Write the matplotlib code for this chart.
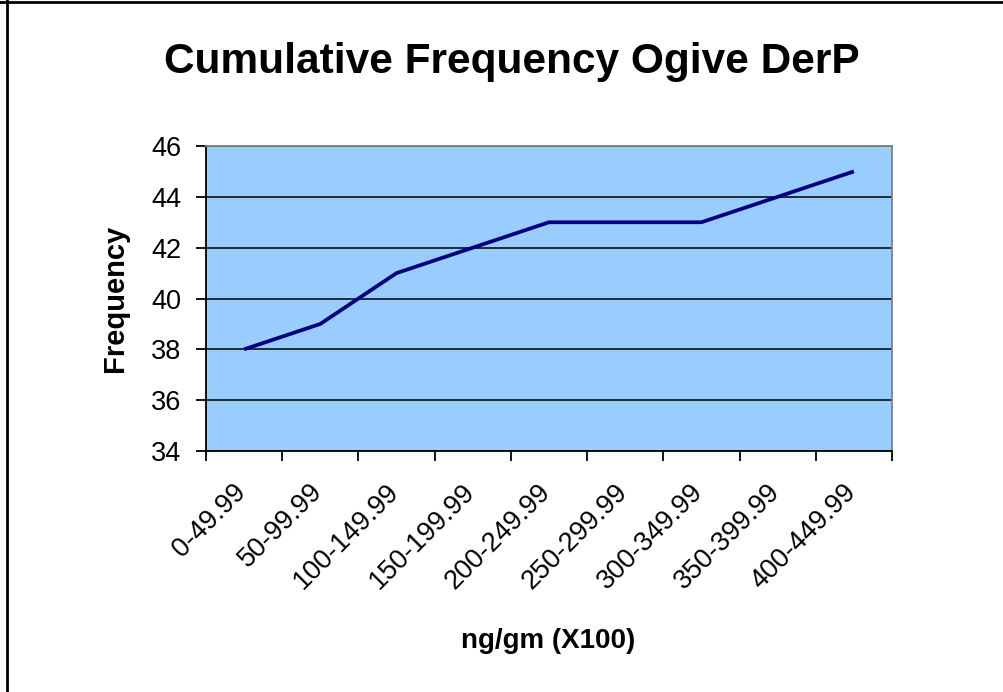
import matplotlib
matplotlib.use("Agg")
import matplotlib.pyplot as plt
import matplotlib.transforms as mtransforms
from matplotlib.lines import Line2D

plt.rcParams['font.family'] = ['Liberation Sans', 'DejaVu Sans']

# Concentration classes and cumulative counts
categories = ["0-49.99", "50-99.99", "100-149.99", "150-199.99", "200-249.99",
              "250-299.99", "300-349.99", "350-399.99", "400-449.99"]
cumulative_freq = [38, 39, 41, 42, 43, 43, 43, 44, 45]
y_ticks = [34, 36, 38, 40, 42, 44, 46]

title = "Cumulative Frequency Ogive DerP"
x_title = "ng/gm (X100)"
y_title = "Frequency"

W, H = 1004, 692
fig = plt.figure(figsize=(W / 100, H / 100), dpi=100)
fig.patch.set_facecolor("white")

# Plot area in pixel bounds
left, right, top, bottom = 206, 892, 146, 451
ax = fig.add_axes([left / W, 1 - bottom / H, (right - left) / W, (bottom - top) / H])
ax.set_facecolor("#99CCFF")

x = list(range(len(categories)))
ax.plot(x, cumulative_freq, color="#000080", linewidth=2.7, solid_capstyle="butt",
        zorder=3)

ax.set_xlim(-0.5, len(categories) - 0.5)
ax.set_ylim(min(y_ticks), max(y_ticks))
ax.set_yticks(y_ticks)
ax.yaxis.grid(True, color="black", linewidth=1.1)
ax.set_axisbelow(True)

# Tick marks on category boundaries, labels on category centres
ax.set_xticks([i - 0.5 for i in range(len(categories) + 1)])
ax.set_xticklabels([])
ax.set_xticks(x, minor=True)
ax.set_xticklabels(categories, minor=True, rotation=45, ha="right", va="center",
                   rotation_mode="anchor", fontsize=19.5)
ax.tick_params(axis="x", which="minor", length=0, pad=0)
ax.tick_params(axis="x", which="major", direction="out", length=7, width=1.3,
               color="black")
ax.tick_params(axis="y", direction="out", length=7, width=1.3, color="black",
               labelsize=19.5, pad=11)
shift = mtransforms.ScaledTranslation(-2 / 100, -37 / 100, fig.dpi_scale_trans)
for lbl in ax.get_xticklabels(minor=True):
    lbl.set_transform(lbl.get_transform() + shift)

for side in ("left", "bottom"):
    ax.spines[side].set_color("black")
    ax.spines[side].set_linewidth(1.3)
for side in ("top", "right"):
    ax.spines[side].set_color("#808080")
    ax.spines[side].set_linewidth(1.3)

ax.set_xlabel(x_title, fontsize=20, fontweight="bold")
ax.xaxis.label.set_va("baseline")
ax.xaxis.set_label_coords(((548 - left) / (right - left)), -(648 - bottom) / (bottom - top))

ax.set_ylabel(y_title, fontsize=21, fontweight="bold")
ax.yaxis.label.set_va("baseline")
ax.yaxis.set_label_coords(-(left - 123) / (right - left), 0.5)

fig.text(512 / W, 1 - 73 / H, title, ha="center", va="baseline",
         fontsize=30.5, fontweight="bold")

# Outer chart frame (top and left edges fall inside the canvas)
fig.add_artist(Line2D([0, 1], [1 - 1.5 / H, 1 - 1.5 / H], transform=fig.transFigure,
                      color="black", linewidth=2))
fig.add_artist(Line2D([6.5 / W, 6.5 / W], [0, 1], transform=fig.transFigure,
                      color="black", linewidth=2))

fig.savefig("out.png", dpi=100)
